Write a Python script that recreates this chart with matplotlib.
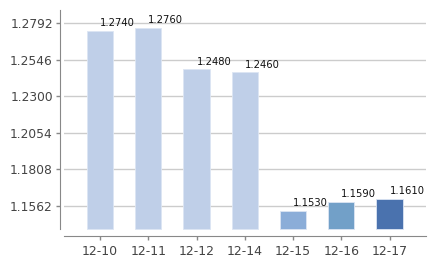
import matplotlib
matplotlib.use("Agg")
import matplotlib.pyplot as plt

dates = ["12-10", "12-11", "12-12", "12-14", "12-15", "12-16", "12-17"]
values = [1.2740, 1.2760, 1.2480, 1.2460, 1.1530, 1.1590, 1.1610]
colors = ["#BFCFE8", "#BFCFE8", "#BFCFE8", "#BFCFE8", "#8BADD8", "#72A0C8", "#4A72AE"]
yticks = [1.1562, 1.1808, 1.2054, 1.2300, 1.2546, 1.2792]

ymin, ymax = 1.1405, 1.2879

fig = plt.figure(figsize=(4.38, 2.60), dpi=100)
ax = fig.add_axes([64 / 438, (260 - 229.5) / 260, (426 - 64) / 438, (229.5 - 10) / 260])

x = list(range(len(dates)))
heights = [v - ymin for v in values]
ax.bar(x, heights, bottom=ymin, width=0.54, color=colors,
       edgecolor="#DCE5F3", linewidth=0.6, zorder=3)

for xi, v in zip(x, values):
    ax.annotate(f"{v:.4f}", (xi, v), xytext=(0, 2), textcoords="offset points",
                ha="left", va="bottom", fontsize=7.2, color="#111111", zorder=4)

ax.set_xlim(-0.746, 6.756)
ax.set_ylim(ymin, ymax)
ax.set_yticks(yticks)
ax.set_yticklabels([f"{t:.4f}" for t in yticks])
ax.set_xticks(x)
ax.set_xticklabels(dates)

ax.grid(axis="y", color="#CCCCCC", linewidth=1, zorder=0)
ax.set_axisbelow(True)

for s in ["top", "right"]:
    ax.spines[s].set_visible(False)
ax.spines["left"].set_position(("outward", 3))
ax.spines["bottom"].set_position(("outward", 4.5))
ax.spines["left"].set_color("#888888")
ax.spines["bottom"].set_color("#888888")

ax.tick_params(axis="y", length=3, width=1, color="#888888", labelsize=8.8,
               labelcolor="#444444", pad=2)
ax.tick_params(axis="x", length=3, width=1, color="#888888", labelsize=9,
               labelcolor="#444444", pad=4)

plt.savefig("out.png", dpi=100)
plt.close()
